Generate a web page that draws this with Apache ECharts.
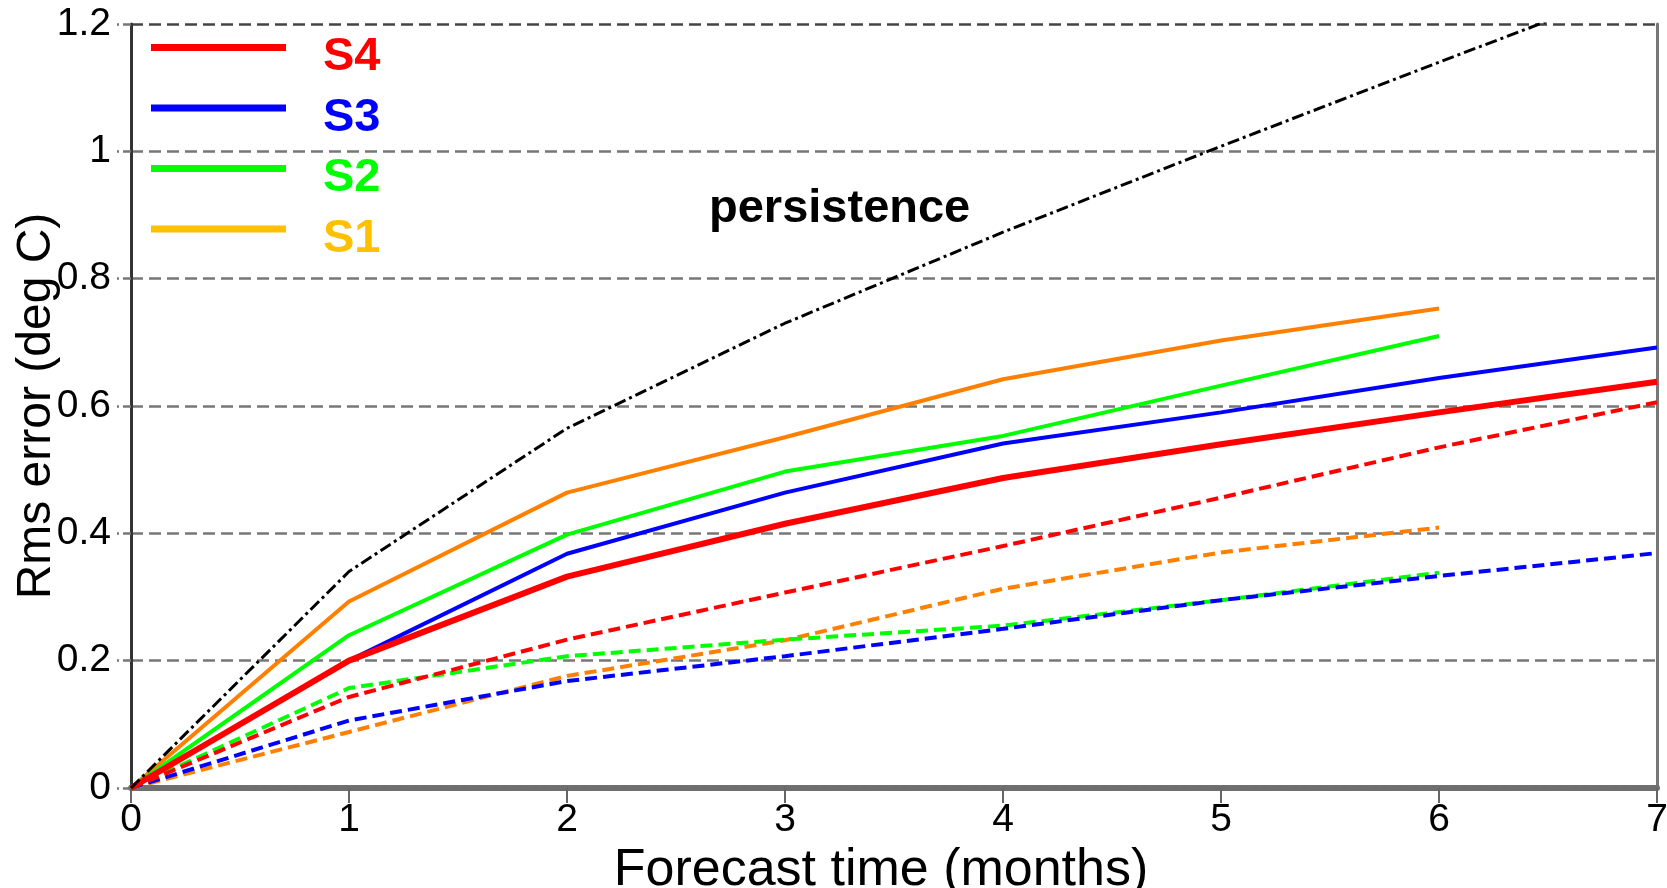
<!DOCTYPE html>
<html><head><meta charset="utf-8">
<script src="https://cdn.jsdelivr.net/npm/echarts@6/dist/echarts.min.js"></script>
<style>html,body{margin:0;padding:0;background:#fff}#c{width:1667px;height:888px}</style>
</head><body><div id="c"></div>
<script>
// Forecast time (months)
const months = [0, 1, 2, 3, 4, 5, 6, 7];
// Rms error (deg C)
const persistence = [0, 0.34, 0.565, 0.73, 0.873, 1.008, 1.14, 1.27];
const s4Solid = [0, 0.2, 0.332, 0.415, 0.487, 0.54, 0.59, 0.638];
const s3Solid = [0, 0.2, 0.368, 0.464, 0.541, 0.59, 0.644, 0.692];
const s2Solid = [0, 0.24, 0.398, 0.497, 0.553, 0.632, 0.71];
const s1Solid = [0, 0.293, 0.464, 0.551, 0.642, 0.703, 0.753];
const s4Dashed = [0, 0.143, 0.233, 0.307, 0.38, 0.456, 0.535, 0.606];
const s3Dashed = [0, 0.106, 0.168, 0.207, 0.25, 0.295, 0.333, 0.369];
const s2Dashed = [0, 0.157, 0.207, 0.233, 0.255, 0.295, 0.338];
const s1Dashed = [0, 0.088, 0.176, 0.232, 0.313, 0.37, 0.409];
const legendNames = ['S4', 'S3', 'S2', 'S1'];
const annotation = 'persistence';
const xTitle = 'Forecast time (months)';
const yTitle = 'Rms error (deg C)';

const FONT = '"Liberation Sans", Arial, sans-serif';
const C = {S4: '#ff0000', S3: '#0000ff', S2: '#00ff00', S1: '#ff8000'};
const legendColor = {S4: '#ff0000', S3: '#0000ff', S2: '#00ff00', S1: '#ffc000'};

function pts(arr) { return arr.map((v, i) => [months[i], v]); }
function line(name, arr, color, width, type) {
  return {
    name: name, type: 'line', data: pts(arr), symbol: 'none', silent: true,
    animation: false, clip: true,
    itemStyle: {color: color},
    lineStyle: {color: color, width: width, type: type}
  };
}

const series = [
  line('S1 dashed', s1Dashed, C.S1, 4, [12, 6]),
  line('S2 dashed', s2Dashed, C.S2, 4, [12, 6]),
  line('S3 dashed', s3Dashed, C.S3, 4, [12, 6]),
  line('S4 dashed', s4Dashed, C.S4, 4, [12, 6]),
  line('S1', s1Solid, C.S1, 4, 'solid'),
  line('S2', s2Solid, C.S2, 4, 'solid'),
  line('S3', s3Solid, C.S3, 4, 'solid'),
  line('S4', s4Solid, C.S4, 6, 'solid'),
  line('persistence', persistence, '#000000', 3, [12, 4, 3, 4])
];

// legend icon: 7px bar at the top of a 27px box (second subpath has no area)
const legendIcon = 'path://M0,0H135V7H0ZM0,27L1,27';

const chart = echarts.init(document.getElementById('c'), null, {renderer: 'canvas'});
chart.setOption({
  backgroundColor: '#ffffff',
  animation: false,
  textStyle: {fontFamily: FONT},
  grid: {left: 131, right: 10, top: 24, bottom: 100, outerBoundsMode: 'none', containLabel: false},
  legend: {
    left: 151, top: 34, orient: 'vertical', padding: 0,
    itemWidth: 135, itemHeight: 27, itemGap: 13.5, icon: legendIcon, selectedMode: false,
    textStyle: {fontFamily: FONT, fontSize: 47, fontWeight: 'bold', lineHeight: 47, padding: [0, 0, 0, 32]},
    data: legendNames.map(n => ({
      name: n,
      itemStyle: {color: legendColor[n], borderWidth: 0},
      textStyle: {color: legendColor[n]}
    }))
  },
  xAxis: {
    type: 'value', min: 0, max: 7, interval: 1,
    name: xTitle, nameLocation: 'middle', nameGap: 57, nameMoveOverlap: false,
    nameTextStyle: {fontSize: 52, color: '#000', fontFamily: FONT, padding: [0, 26, 0, 0]},
    axisLine: {show: true, lineStyle: {color: '#6e6e6e', width: 6, type: [8, 2]}},
    axisTick: {show: true, length: 15, lineStyle: {color: '#666', width: 2}},
    axisLabel: {fontSize: 39, color: '#000', margin: 13, fontFamily: FONT},
    splitLine: {show: false}
  },
  yAxis: [{
    type: 'value', min: 0, max: 1.2, interval: 0.2,
    name: yTitle, nameLocation: 'middle', nameGap: 70, nameMoveOverlap: false,
    nameTextStyle: {fontSize: 48, color: '#000', fontFamily: FONT},
    axisLine: {show: true, lineStyle: {color: '#333', width: 3}},
    axisTick: {show: true, length: 14, lineStyle: {color: '#777', width: 2.5, type: [8, 4]}},
    axisLabel: {fontSize: 39, color: '#000', margin: 20, fontFamily: FONT},
    splitLine: {show: true, lineStyle: {color: ['#777', '#777', '#777', '#777', '#777', '#777', '#444'], width: 2.5, type: [12, 6]}}
  }, {
    type: 'value', position: 'right', min: 0, max: 1.2, interval: 0.2,
    axisLine: {show: true, lineStyle: {color: '#777', width: 3}},
    axisTick: {show: false}, axisLabel: {show: false}, splitLine: {show: false}
  }],
  graphic: [{
    type: 'text', x: 709, y: 209, silent: true,
    style: {text: annotation, font: 'bold 47px ' + FONT, fill: '#000', align: 'left', verticalAlign: 'middle'}
  }],
  series: series
});
</script>
</body></html>
